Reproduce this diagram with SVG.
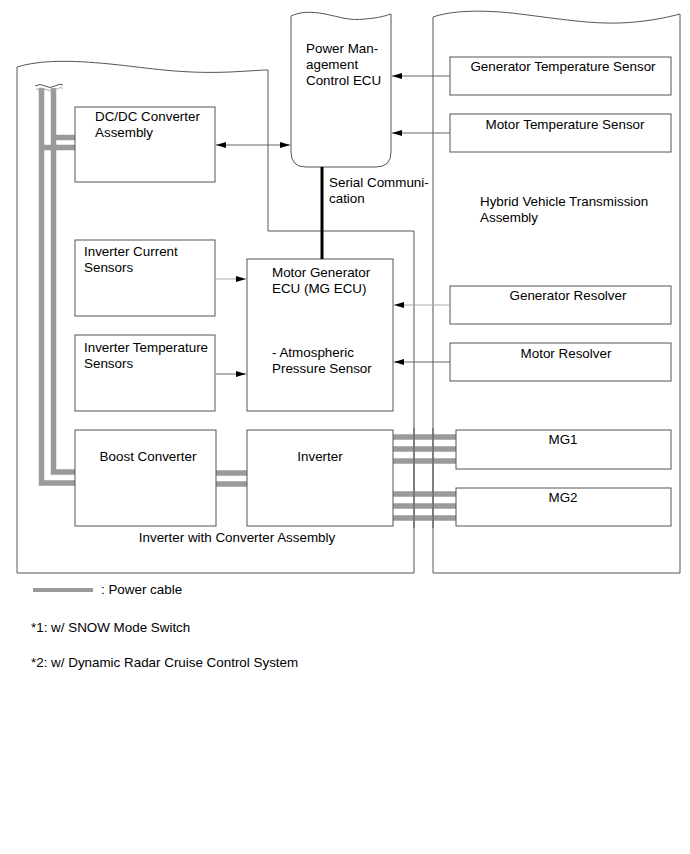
<svg xmlns="http://www.w3.org/2000/svg" width="690" height="854" viewBox="0 0 690 854">
<defs>
<marker id="ah" viewBox="0 0 10 6" refX="10" refY="3" markerWidth="10" markerHeight="6" markerUnits="userSpaceOnUse" orient="auto-start-reverse">
<path d="M0,0 L10,3 L0,6 Z" fill="#000"/>
</marker>
</defs>
<style>
text{font-family:"Liberation Sans",Arial,sans-serif;font-size:13.4px;fill:#000}
.box{fill:#fff;stroke:#555;stroke-width:1}
.outl{fill:none;stroke:#555;stroke-width:1}
.cable{fill:none;stroke:#9a9a9a;stroke-width:5.5}
.con{fill:none;stroke:#666;stroke-width:1}
.lt{fill:none;stroke:#aaa;stroke-width:1}
.mid{text-anchor:middle}
</style>
<rect width="690" height="854" fill="#fff"/>

<g id="inverter-assembly">
<path class="outl" d="M17,67 C40,60 70,60 110,64 S180,74 230,72 C250,71 262,70 268,70 L268,231 L414,231 L414,573 L17,573 Z"/>
<text class="mid" x="237" y="542">Inverter with Converter Assembly</text>
</g>

<g id="hybrid-transmission">
<path class="outl" d="M433,573 L433,17 C450,11 480,9 520,14 S590,24 620,23 C645,22 665,18 680,14 L680,573 Z"/>
<text x="480" y="206">Hybrid Vehicle Transmission</text>
<text x="480" y="222">Assembly</text>
</g>

<g id="cables">
<path class="cable" d="M53.5,88 V472 H75"/>
<path class="cable" d="M41.5,88 V483 H75"/>
<path class="cable" d="M53.5,137.5 H75"/>
<path class="cable" d="M41.5,147.5 H75"/>
<path d="M35,86 q5,-3 10,0 t10,0 t8,-1" fill="none" stroke="#555" stroke-width="1"/>
<path d="M36,89.5 q5,-3 10,0 t10,0 t7,-1" fill="none" stroke="#aaa" stroke-width="1"/>
<path class="cable" d="M216,473 H247 M216,484 H247"/>
<path class="cable" d="M393,437 H456 M393,449 H456 M393,461 H456 M393,494 H456 M393,506 H456 M393,518 H456"/>
<path class="outl" d="M414,428 V528 M433,428 V528"/>
</g>

<g id="pmc-ecu">
<path class="box" d="M291,16 C300,12 310,11 325,14 S350,21 365,19 C378,18 385,16 391,14 L391,152 Q391,167 376,167 L306,167 Q291,167 291,152 Z"/>
<text x="306" y="53">Power Man-</text>
<text x="306" y="69">agement</text>
<text x="306" y="85">Control ECU</text>
</g>

<g id="gen-temp-sensor">
<rect class="box" x="450" y="57" width="221" height="38"/>
<text class="mid" x="563" y="71">Generator Temperature Sensor</text>
</g>
<g id="motor-temp-sensor">
<rect class="box" x="450" y="114" width="221" height="38"/>
<text class="mid" x="565" y="129">Motor Temperature Sensor</text>
</g>

<g id="dcdc">
<rect class="box" x="75" y="107" width="140" height="75"/>
<text x="95" y="121">DC/DC Converter</text>
<text x="95" y="137">Assembly</text>
</g>

<g id="inv-current">
<rect class="box" x="75" y="240" width="140" height="76"/>
<text x="84" y="256">Inverter Current</text>
<text x="84" y="272">Sensors</text>
</g>

<g id="inv-temp">
<rect class="box" x="75" y="335" width="140" height="76"/>
<text x="84" y="352">Inverter Temperature</text>
<text x="84" y="368">Sensors</text>
</g>

<g id="mg-ecu">
<rect class="box" x="247" y="259" width="146" height="152"/>
<text x="272" y="277">Motor Generator</text>
<text x="272" y="293">ECU (MG ECU)</text>
<text x="272" y="357">- Atmospheric</text>
<text x="272" y="373">Pressure Sensor</text>
</g>

<g id="gen-resolver">
<rect class="box" x="450" y="286" width="221" height="38"/>
<text class="mid" x="568" y="300">Generator Resolver</text>
</g>
<g id="motor-resolver">
<rect class="box" x="450" y="343" width="221" height="38"/>
<text class="mid" x="566" y="358">Motor Resolver</text>
</g>

<g id="boost">
<rect class="box" x="75" y="430" width="141" height="96"/>
<text class="mid" x="148" y="461">Boost Converter</text>
</g>
<g id="inverter">
<rect class="box" x="247" y="430" width="146" height="96"/>
<text class="mid" x="320" y="461">Inverter</text>
</g>
<g id="mg1">
<rect class="box" x="456" y="430" width="215" height="39"/>
<text class="mid" x="563" y="444">MG1</text>
</g>
<g id="mg2">
<rect class="box" x="456" y="488" width="215" height="38"/>
<text class="mid" x="563" y="502">MG2</text>
</g>

<g id="connectors">
<line class="con" x1="450" y1="76" x2="392" y2="76" marker-end="url(#ah)"/>
<line class="con" x1="450" y1="133" x2="392" y2="133" marker-end="url(#ah)"/>
<line class="con" x1="216" y1="145" x2="290" y2="145" marker-start="url(#ah)" marker-end="url(#ah)"/>
<line x1="322" y1="167" x2="322" y2="259" stroke="#000" stroke-width="3"/>
<line class="lt" x1="216" y1="279" x2="246" y2="279" marker-end="url(#ah)"/>
<line class="con" x1="216" y1="374" x2="246" y2="374" marker-end="url(#ah)"/>
<line class="lt" x1="450" y1="305" x2="394" y2="305" marker-end="url(#ah)"/>
<line class="con" x1="450" y1="362" x2="394" y2="362" marker-end="url(#ah)"/>
</g>
<text x="329" y="187">Serial Communi-</text>
<text x="329" y="203">cation</text>

<g id="legend">
<rect x="33" y="588" width="60" height="4" fill="#9a9a9a"/>
<text x="101" y="594">: Power cable</text>
<text x="31" y="632">*1: w/ SNOW Mode Switch</text>
<text x="31" y="667">*2: w/ Dynamic Radar Cruise Control System</text>
</g>
</svg>
